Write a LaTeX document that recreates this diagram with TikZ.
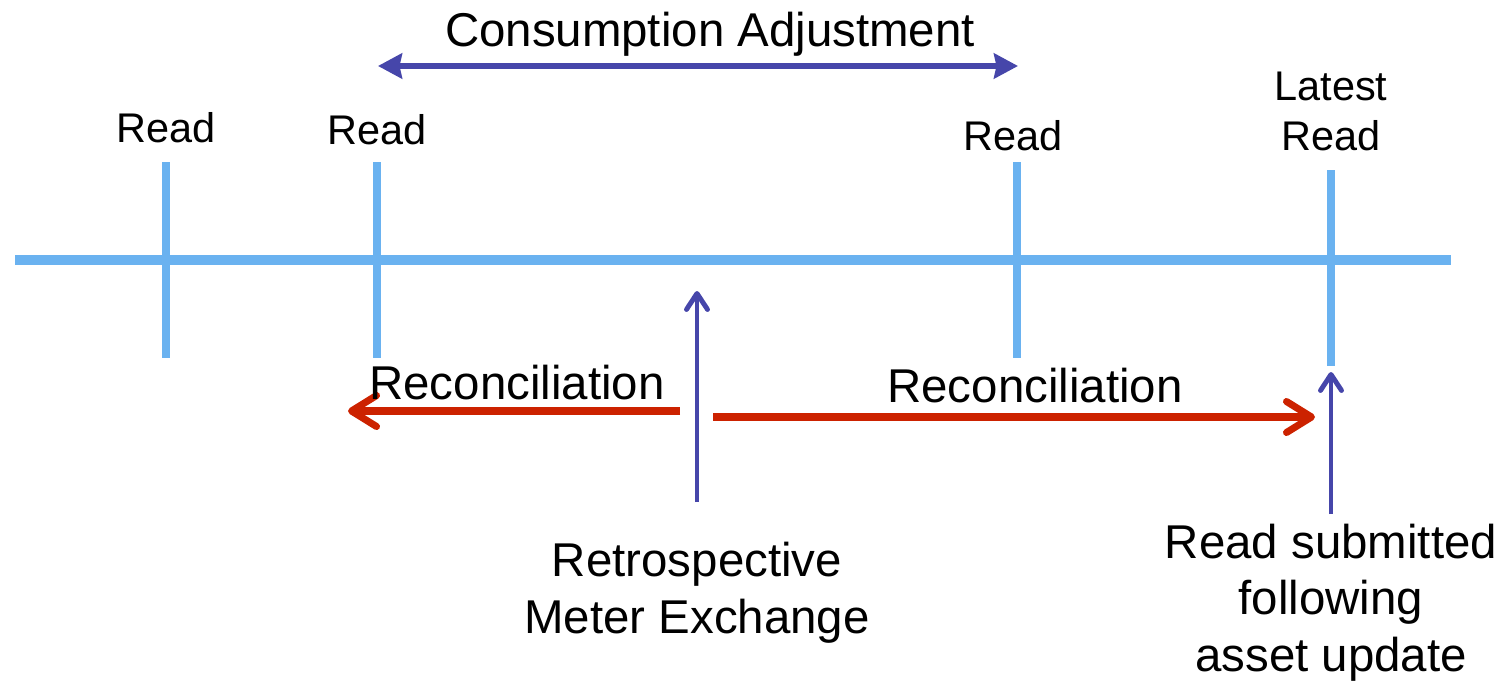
\documentclass[tikz,border=0pt]{standalone}
\usepackage{fontspec}
\setmainfont{Liberation Sans}
\usetikzlibrary{arrows.meta}
\definecolor{tickblue}{RGB}{106,178,240}
\definecolor{arrowblue}{RGB}{70,70,170}
\definecolor{recred}{RGB}{204,34,0}
\begin{document}
\begin{tikzpicture}[x=0.02cm,y=-0.02cm,
  timeline/.style={draw=tickblue,line width=6pt},
  tickline/.style={draw=tickblue,line width=4.2pt},
  bigtxt/.style={font=\fontsize{27}{31.9}\selectfont,anchor=base,inner sep=0pt,align=center},
  readtxt/.style={font=\fontsize{23.6}{28.45}\selectfont,anchor=base,inner sep=0pt,align=center},
  recon/.style={draw=recred,line width=4pt,-{Straight Barb[length=0.5cm,width=0.62cm,round]}},
  thinup/.style={draw=arrowblue,line width=2.8pt,-{Straight Barb[length=0.32cm,width=0.42cm,round]}},
  adjust/.style={draw=arrowblue,line width=3.4pt,{Stealth[length=0.48cm,width=0.5cm,inset=0.05cm]}-{Stealth[length=0.48cm,width=0.5cm,inset=0.05cm]}}]
\useasboundingbox (0,0) rectangle (1501,683);
% timeline
\coordinate (tl0) at (15,260);
\coordinate (tl1) at (1451,260);
\draw[timeline] (tl0) -- (tl1);
% ticks
\coordinate (t1a) at (166,162); \coordinate (t1b) at (166,358);
\coordinate (t2a) at (377,162); \coordinate (t2b) at (377,358);
\coordinate (t3a) at (1017,162); \coordinate (t3b) at (1017,358);
\coordinate (t4a) at (1331,170); \coordinate (t4b) at (1331,366);
\draw[tickline] (t1a) -- (t1b);
\draw[tickline] (t2a) -- (t2b);
\draw[tickline] (t3a) -- (t3b);
\draw[tickline] (t4a) -- (t4b);
% read labels
\node[readtxt] (r1) at (166,142) {Read};
\node[readtxt] (r2) at (377,144) {Read};
\node[readtxt] (r3) at (1013,150) {Read};
\node[readtxt] (r4) at (1331,150) {Latest\\Read};
% consumption adjustment
\node[bigtxt] (ca) at (710,46) {Consumption Adjustment};
\coordinate (caL) at (378,66);
\coordinate (caR) at (1018,66);
\draw[adjust] (caL) -- (caR);
% reconciliation arrows
\coordinate (rlS) at (680,411); \coordinate (rlE) at (348,411);
\coordinate (rrS) at (713,417); \coordinate (rrE) at (1315,417);
\draw[recon] (rlS) -- (rlE);
\draw[recon] (rrS) -- (rrE);
\node[bigtxt] (rc1) at (517,399) {Reconciliation};
\node[bigtxt] (rc2) at (1035,402) {Reconciliation};
% exchange arrows
\coordinate (exS) at (697,502); \coordinate (exE) at (697,291);
\coordinate (suS) at (1331,514); \coordinate (suE) at (1331,372);
\draw[thinup] (exS) -- (exE);
\draw[thinup] (suS) -- (suE);
\node[bigtxt] (ex) at (697,633) {Retrospective\\Meter Exchange};
\node[bigtxt] (su) at (1331,671) {Read submitted\\following\\asset update};
\end{tikzpicture}
\end{document}
